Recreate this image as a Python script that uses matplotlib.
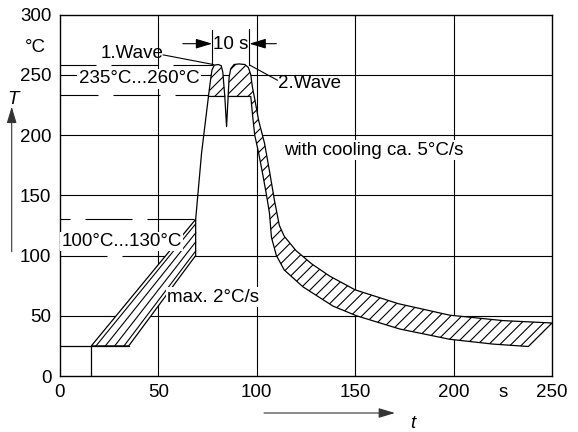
import matplotlib
matplotlib.use("Agg")
import matplotlib.pyplot as plt
import numpy as np

plt.rcParams['font.family'] = ['Liberation Sans', 'DejaVu Sans']
plt.rcParams['hatch.linewidth'] = 0.8
plt.rcParams['lines.scale_dashes'] = False

# ---- data ----
x_ticks = [0, 50, 100, 150, 200, 225, 250]
x_tick_labels = ['0', '50', '100', '150', '200', 's', '250']
y_ticks = [0, 50, 100, 150, 200, 250, 300]
y_tick_labels = ['0', '50', '100', '150', '200', '250', '300']

base_t = [0, 35]
base_T = [25, 25]
start_t = [16, 16]
start_T = [0, 25]

preheat_up_t = [16, 69]
preheat_up_T = [25, 130]
preheat_low_t = [35, 69]
preheat_low_T = [25, 100]

ramp_t = [69, 72, 75.5]
ramp_T = [130, 185, 232]

wave1_t = [75.5, 76.5, 77.3, 78.5, 80.5, 82.0, 82.8, 83.3, 83.8]
wave1_T = [232, 245, 254, 258, 258.5, 257.5, 252, 242, 232]

dip_t = [83.8, 84.7, 85.5]
dip_T = [232, 207, 232]

wave2_t = [85.5, 86.0, 86.8, 88.5, 91, 94, 95.8, 97.0, 97.8]
wave2_T = [232, 248, 255, 258.5, 259, 258.5, 256, 250, 240]

cool_up_t = [99, 101, 104, 106.5, 109, 111.5, 114, 120, 128, 137, 150, 172, 198, 225, 250]
cool_up_T = [230, 212, 193, 170, 146, 125, 116, 104, 93, 83, 71.5, 60, 50.5, 46, 44]
cool_low_t = [97, 98, 99, 101, 103, 105, 106.5, 107.5, 110, 114, 123.5, 138.8, 150.7, 172.7, 198, 220, 238]
cool_low_T = [232, 215, 200, 185, 168, 150, 135, 115, 100, 88, 74, 58, 50, 39, 30.5, 26.5, 24.5]

limit_low = [100, 130]      # preheat limits
limit_wave = [233, 258]     # wave limits (drawn positions)
limit_low_end = 69
limit_wave_end = 76

fig = plt.figure(figsize=(5.78, 4.32), dpi=100)
ax = fig.add_axes([0.1035, 0.1296, 0.8515, 0.8368])
ax.set_xlim(0, 250)
ax.set_ylim(0, 300)

# grid
for gx in [50, 100, 150, 200]:
    ax.plot([gx, gx], [0, 300], color='black', lw=0.8, zorder=1)
for gy in [50, 150, 200, 250]:
    ax.plot([0, 250], [gy, gy], color='black', lw=0.8, zorder=1)
ax.plot([limit_low_end, 250], [100, 100], color='black', lw=0.8, zorder=1)

px = 0.72
ax.plot([0, limit_low_end], [limit_low[0]] * 2, color='black', lw=0.8,
        ls=(0, (47 * px, 15 * px)), zorder=1)
ax.plot([0, limit_low_end], [limit_low[1]] * 2, color='black', lw=0.8,
        ls=(37 * px, (47 * px, 15 * px)), zorder=1)
ax.plot([0, limit_wave_end], [limit_wave[0]] * 2, color='black', lw=0.8,
        ls=(9 * px, (47 * px, 15 * px)), zorder=1)
ax.plot([0, limit_wave_end + 2], [limit_wave[1]] * 2, color='black', lw=0.8,
        ls=(11 * px, (47 * px, 15 * px)), zorder=1)

# profile
ax.plot(base_t, base_T, color='black', lw=0.9, zorder=3)
ax.plot(start_t, start_T, color='black', lw=0.9, zorder=3)
pre_t = preheat_up_t + preheat_low_t[::-1]
pre_T = preheat_up_T + preheat_low_T[::-1]
ax.fill(pre_t, pre_T, facecolor='white', edgecolor='black', lw=0.9, zorder=3)
# preheat hatch lines, parallel to the band edges
for f in [0.125, 0.375, 0.625, 0.875]:
    ht = [preheat_up_t[0] + f * (preheat_low_t[0] - preheat_up_t[0]), preheat_up_t[1]]
    hT = [preheat_up_T[0], preheat_up_T[1] + f * (preheat_low_T[1] - preheat_up_T[1])]
    ax.plot(ht, hT, color='black', lw=0.8, zorder=3)
ax.plot(ramp_t, ramp_T, color='black', lw=0.9, zorder=3)
ax.fill(wave1_t, wave1_T, facecolor='white', edgecolor='black', hatch='///', lw=0.9, zorder=3)
ax.plot(dip_t, dip_T, color='black', lw=0.9, zorder=3)
poly_t = wave2_t + cool_up_t + cool_low_t[::-1]
poly_T = wave2_T + cool_up_T + cool_low_T[::-1]
ax.fill(poly_t, poly_T, facecolor='white', edgecolor='black', hatch='///', lw=0.9, zorder=3)

fs = 13.5
ax.set_xticks(x_ticks)
ax.set_xticklabels(x_tick_labels)
ax.set_yticks(y_ticks)
ax.set_yticklabels(y_tick_labels)
ax.tick_params(length=0, labelsize=fs, pad=6)
for s in ax.spines.values():
    s.set_linewidth(1.0)

box = dict(facecolor='white', edgecolor='none', pad=1)
ax.text(40.2, 246.5, '235°C...260°C', ha='center', va='center', fontsize=fs, bbox=box, zorder=5)
ax.text(31.4, 111.5, '100°C...130°C', ha='center', va='center', fontsize=fs, bbox=box, zorder=5)
ax.text(159.5, 187.5, 'with cooling ca. 5°C/s', ha='center', va='center', fontsize=fs, bbox=box, zorder=5)
ax.text(78, 65.5, 'max. 2°C/s', ha='center', va='center', fontsize=fs, bbox=box, zorder=5)
ax.text(36.5, 268, '1.Wave', ha='center', va='center', fontsize=fs, zorder=5)
ax.plot([52.5, 78.0], [266.5, 258.5], color='black', lw=0.8, zorder=4)
ax.text(127, 243, '2.Wave', ha='center', va='center', fontsize=fs, zorder=5)
ax.plot([110.5, 96.5], [245.5, 258], color='black', lw=0.8, zorder=4)

# 10 s marker
ax.plot([77.4, 77.4], [258, 287], color='black', lw=0.8, zorder=4)
ax.plot([96.3, 96.3], [258, 288], color='black', lw=0.8, zorder=4)
ax.text(86.8, 275.5, '10 s', ha='center', va='center', fontsize=fs, zorder=5)
astyle = '-|>,head_length=0.5,head_width=0.15'
ax.annotate('', xy=(77.4, 275.8), xytext=(62.5, 275.8),
            arrowprops=dict(arrowstyle=astyle, color='black', lw=0.8,
                            shrinkA=0, shrinkB=0, mutation_scale=20), annotation_clip=False)
ax.annotate('', xy=(96.3, 275.8), xytext=(110, 275.8),
            arrowprops=dict(arrowstyle=astyle, color='black', lw=0.8,
                            shrinkA=0, shrinkB=0, mutation_scale=20), annotation_clip=False)

ax.text(-12.2, 273, '°C', ha='center', va='center', fontsize=fs, clip_on=False)

# axis arrows
fig.patches.append(matplotlib.patches.FancyArrowPatch(
    (11.7 / 578, (432 - 251.7) / 432), (11.7 / 578, (432 - 106.7) / 432),
    transform=fig.transFigure, arrowstyle=astyle, mutation_scale=20,
    color='#333333', lw=0.8, shrinkA=0, shrinkB=0))
fig.text(13.3 / 578, (432 - 100) / 432, 'T', ha='center', va='center', fontsize=fs, style='italic')
fig.patches.append(matplotlib.patches.FancyArrowPatch(
    (264 / 578, (432 - 413) / 432), (395 / 578, (432 - 413) / 432),
    transform=fig.transFigure, arrowstyle=astyle, mutation_scale=20,
    color='#333333', lw=0.8, shrinkA=0, shrinkB=0))
fig.text(413 / 578, (432 - 424) / 432, 't', ha='center', va='center', fontsize=fs, style='italic')

fig.savefig('out.png', dpi=100)
